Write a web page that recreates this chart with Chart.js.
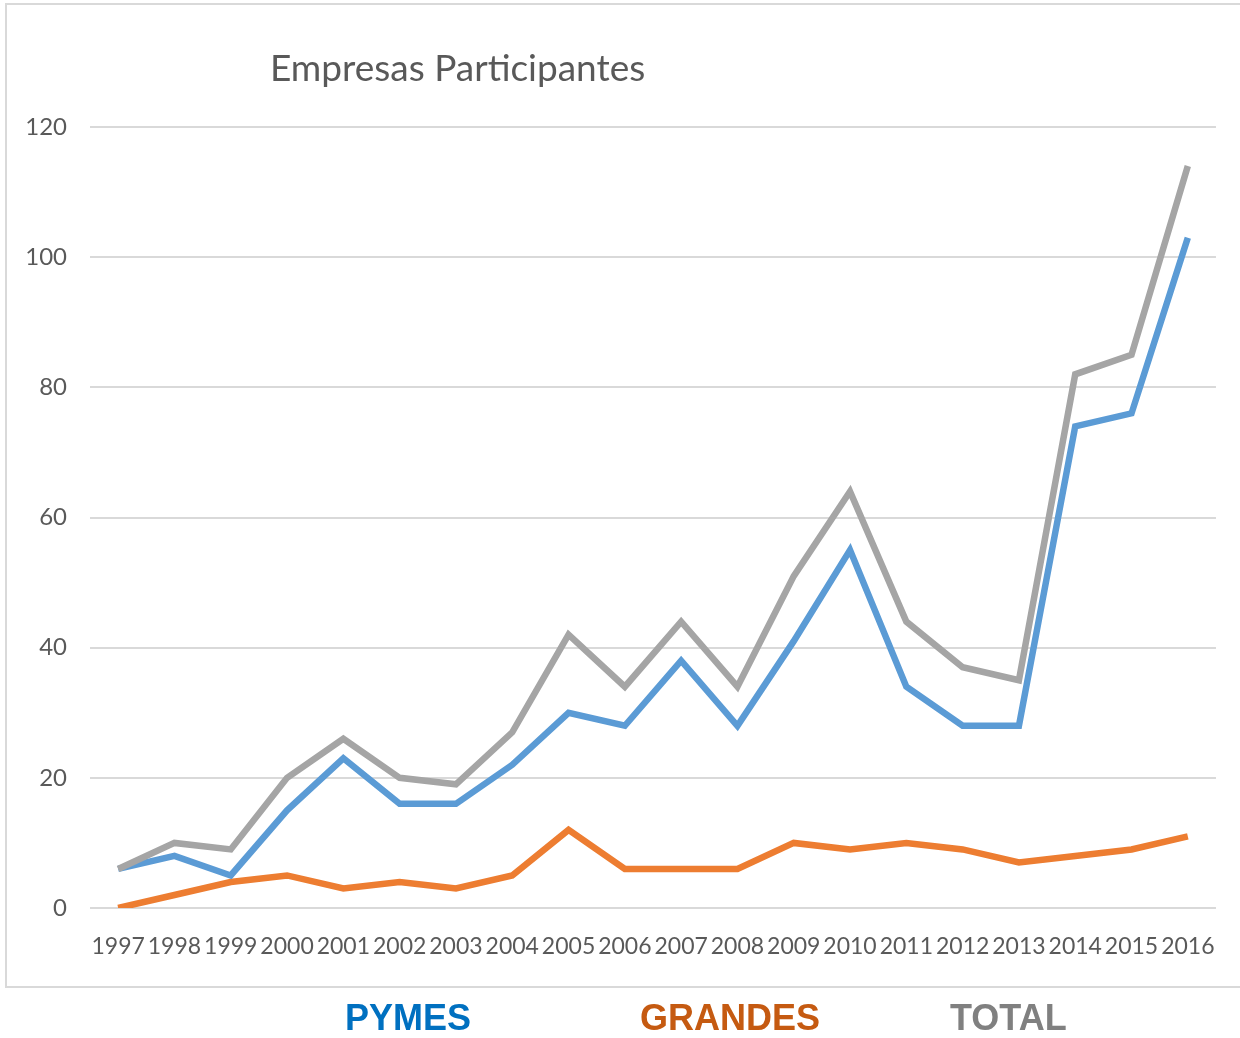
<!DOCTYPE html>
<html>
<head>
<meta charset="utf-8">
<script src="https://cdn.jsdelivr.net/npm/chart.js@4"></script>
<style>
  body { margin: 0; background: #fff; width: 1240px; height: 1038px; overflow: hidden; position: relative; }
  #frame { position: absolute; left: 5px; top: 3px; width: 1245px; height: 985px; border: 2px solid #d9d9d9; box-sizing: border-box; }
  #chart { position: absolute; left: 0; top: 0; }
  #title { position: absolute; top: 44px; left: 270px; font-family: Lato, "Open Sans", sans-serif; font-size: 37px; color: #595959; white-space: nowrap; }
  .key { position: absolute; top: 997px; font-family: "Liberation Sans", Arial, sans-serif; font-weight: bold; font-size: 36px; white-space: nowrap; }
</style>
</head>
<body>
<div id="frame"></div>
<canvas id="chart" width="1240" height="1038"></canvas>
<div id="title">Empresas Participantes</div>
<div class="key" style="left:345px; color:#0070c0">PYMES</div>
<div class="key" style="left:640px; color:#c55a11">GRANDES</div>
<div class="key" style="left:950px; color:#808080">TOTAL</div>
<script>
// Years on the x axis
const years = ["1997", "1998", "1999", "2000", "2001", "2002", "2003", "2004", "2005", "2006",
  "2007", "2008", "2009", "2010", "2011", "2012", "2013", "2014", "2015", "2016"];

// Series
const pymes = [6, 8, 5, 15, 23, 16, 16, 22, 30, 28, 38, 28, 41, 55, 34, 28, 28, 74, 76, 103];
const grandes = [0, 2, 4, 5, 3, 4, 3, 5, 12, 6, 6, 6, 10, 9, 10, 9, 7, 8, 9, 11];
const total = [6, 10, 9, 20, 26, 20, 19, 27, 42, 34, 44, 34, 51, 64, 44, 37, 35, 82, 85, 114];

const yTicks = [0, 20, 40, 60, 80, 100, 120];

const lineStyle = (label, data, color) => ({
  label: label,
  data: data,
  borderColor: color,
  backgroundColor: color,
  borderWidth: 6.5,
  pointRadius: 0,
  tension: 0,
  borderJoinStyle: "miter",
  fill: false,
});

const ctx = document.getElementById("chart").getContext("2d");

new Chart(ctx, {
  type: "line",
  data: {
    labels: years,
    datasets: [
      lineStyle("TOTAL", total, "#a5a5a5"),
      lineStyle("PYMES", pymes, "#5b9bd5"),
      lineStyle("GRANDES", grandes, "#ed7d31"),
    ],
  },
  options: {
    responsive: false,
    animation: false,
    layout: { padding: { left: 0, right: 20, top: 127, bottom: 0 } },
    plugins: {
      legend: { display: false },
      title: { display: false },
      tooltip: { enabled: false },
    },
    scales: {
      x: {
        offset: true,
        grid: { display: false, drawTicks: false },
        border: { display: false },
        ticks: {
          autoSkip: false,
          maxRotation: 0,
          minRotation: 0,
          padding: 25,
          color: "#595959",
          font: { family: "Lato, 'Open Sans', sans-serif", size: 23 },
        },
        afterFit: (scale) => { scale.height = 130; },
      },
      y: {
        min: 0,
        max: 120,
        afterBuildTicks: (scale) => { scale.ticks = yTicks.map((v) => ({ value: v })); },
        grid: { color: "#d9d9d9", lineWidth: 2, drawTicks: false },
        border: { display: false },
        ticks: {
          padding: 23,
          color: "#595959",
          font: { family: "Lato, 'Open Sans', sans-serif", size: 24 },
        },
        afterFit: (scale) => { scale.width = 90; },
      },
    },
  },
});
</script>
</body>
</html>
